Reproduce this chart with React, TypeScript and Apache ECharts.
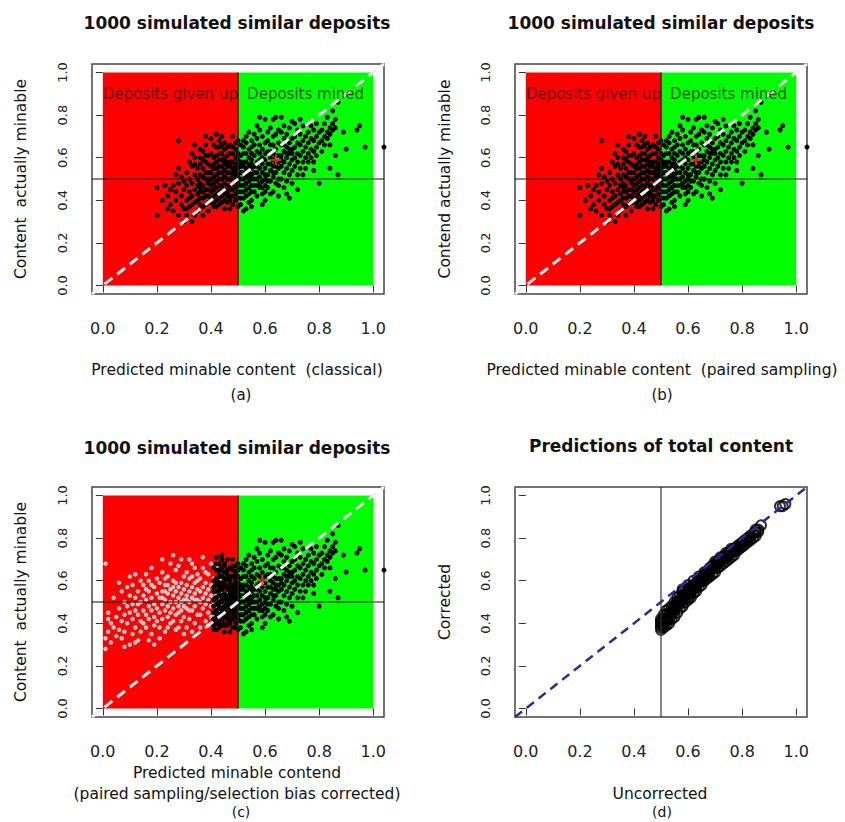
import React, { useEffect, useRef } from "react";
import * as echarts from "echarts";

// ---------- data (hundredths of content, [predicted, actual]) ----------
const TICKS = [0, 0.2, 0.4, 0.6, 0.8, 1.0];
const AXIS_MIN = -0.04;
const AXIS_MAX = 1.04;
const THRESHOLD = 0.5;
const TEXT_Y = 0.9;

// simulated deposits, panels (a) and (b)
const cloudAB: number[][] = [
  [20,46],[20,33],[22,40],[24,36],[24,42],[25,38],[23,47],[25,45],
  [26,35],[27,40],[27,44],[28,68],[28,33],[28,48],[29,38],[29,42],[29,51],[26,47],[30,30],[30,45],[30,36],[28,55],[27,52],
  [31,40],[31,47],[31,33],[32,50],[32,44],[32,37],[33,56],[33,42],[33,48],[33,30],[34,52],[34,39],[34,45],[34,60],[35,35],[35,50],[35,43],[35,55],[31,53],[32,58],[33,62],[34,33],[35,47],[32,41],[33,38],[34,57],[31,36],[35,40],[30,49],[34,66],
  [36,44],[36,52],[36,38],[36,60],[36,48],[37,55],[37,41],[37,47],[37,63],[37,33],[38,50],[38,45],[38,58],[38,38],[38,66],[39,53],[39,42],[39,48],[39,61],[39,35],[40,56],[40,44],[40,50],[40,69],[40,39],[36,57],[37,51],[38,42],[39,57],[40,47],[36,41],[37,59],[38,53],[39,45],[40,62],[36,64],[37,37],[38,70],[39,50],[40,53],[36,46],[37,44],[38,61],[39,39],[40,41],
  [41,48],[41,55],[41,42],[41,60],[41,37],[42,52],[42,46],[42,65],[42,58],[42,40],[43,50],[43,56],[43,44],[43,62],[43,38],[44,53],[44,47],[44,70],[44,59],[44,42],[45,51],[45,57],[45,45],[45,64],[45,40],[41,51],[41,66],[42,49],[42,55],[42,43],[43,47],[43,53],[43,68],[44,50],[44,56],[44,62],[45,48],[45,54],[45,60],[45,36],[41,45],[42,61],[43,41],[44,45],[45,43],[41,57],[42,71],[43,59],[44,39],[45,67],[41,39],[42,37],[43,65],[44,66],[45,58],
  [46,50],[46,56],[46,44],[46,61],[46,39],[47,53],[47,47],[47,58],[47,66],[47,42],[48,51],[48,55],[48,45],[48,62],[48,38],[49,49],[49,57],[49,43],[49,64],[49,53],[50,52],[50,47],[50,59],[50,41],[50,68],[46,53],[46,47],[47,50],[47,62],[47,36],[48,48],[48,58],[48,42],[49,46],[49,60],[49,40],[50,55],[50,44],[50,62],[50,50],[46,65],[47,45],[48,70],[49,51],[50,57],[46,42],[47,56],[48,53],[49,67],[50,37],[46,58],[47,40],[48,65],[49,55],[50,48],
  [51,50],[51,56],[51,44],[51,61],[51,38],[52,53],[52,47],[52,58],[52,65],[52,41],[53,51],[53,55],[53,45],[53,62],[53,36],[54,49],[54,57],[54,43],[54,64],[54,53],[55,52],[55,47],[55,59],[55,40],[55,68],[51,53],[51,47],[52,50],[52,62],[52,35],[53,48],[53,58],[53,42],[54,46],[54,60],[54,39],[55,55],[55,44],[55,62],[55,50],[51,66],[52,44],[53,70],[54,51],[55,57],[51,41],[52,56],[53,67],[54,72],[55,65],[51,58],[52,68],[53,52],[54,55],[55,37],
  [56,50],[56,56],[56,44],[56,61],[56,66],[57,53],[57,47],[57,58],[57,69],[57,42],[58,51],[58,55],[58,46],[58,62],[58,73],[59,49],[59,57],[59,43],[59,64],[59,53],[60,52],[60,47],[60,59],[60,40],[60,67],[56,53],[56,71],[57,50],[57,63],[58,48],[58,59],[58,66],[59,46],[59,60],[59,70],[60,55],[60,44],[60,62],[60,78],[56,47],[57,56],[58,79],[59,38],[60,50],[57,75],
  [61,52],[61,57],[61,63],[61,46],[61,68],[62,54],[62,49],[62,60],[62,66],[62,74],[63,51],[63,56],[63,62],[63,44],[63,70],[64,53],[64,58],[64,64],[64,48],[64,79],[65,55],[65,50],[65,61],[65,67],[65,42],[61,72],[62,57],[62,43],[63,59],[63,66],[64,61],[64,71],[65,58],[65,73],[61,49],[62,63],[63,53],[64,56],[65,47],[63,78],
  [66,56],[66,61],[66,66],[66,50],[66,72],[67,58],[67,63],[67,53],[67,69],[67,46],[68,55],[68,60],[68,65],[68,71],[68,49],[69,57],[69,62],[69,67],[69,52],[69,74],[70,59],[70,64],[70,69],[70,54],[70,77],[66,79],[67,75],[68,43],[69,41],[70,48],[66,59],[67,66],[68,62],[69,64],[70,62],
  [71,60],[71,65],[71,56],[71,70],[72,62],[72,67],[72,58],[72,73],[72,52],[73,61],[73,66],[73,55],[73,71],[74,63],[74,68],[74,58],[74,75],[75,60],[75,65],[75,70],[75,55],[71,76],[73,78],[74,52],[72,45],
  [76,62],[76,67],[76,58],[76,72],[77,64],[77,69],[77,60],[77,75],[78,63],[78,68],[78,58],[78,73],[79,65],[79,70],[79,61],[79,76],[80,67],[80,72],[80,48],[78,54],
  [81,68],[81,73],[81,63],[82,70],[82,66],[82,76],[83,69],[83,72],[83,79],[84,71],[84,74],[84,66],[85,73],[85,76],[85,82],[86,74],[86,78],[87,86],[87,52],[86,61],[84,55],
  [95,75],[94,73],[97,65],[104,65],[89,72],[90,64]
];

// panel (c): deposits given up after bias correction (grey)
const greyC: number[][] = [
  [1,68],[1,33],[1,28],[2,36],[2,45],[3,40],[3,31],[4,52],[4,38],[5,43],[5,34],[2,42],
  [6,59],[6,47],[6,37],[7,41],[7,55],[7,33],[8,50],[8,44],[8,36],[9,57],[9,48],[9,40],[10,53],[10,45],[10,30],[10,62],[8,29],
  [11,49],[11,42],[11,58],[11,35],[12,52],[12,46],[12,63],[12,38],[13,55],[13,44],[13,49],[13,32],[14,60],[14,50],[14,41],[14,36],[15,53],[15,46],[15,58],[15,40],[12,31],
  [16,51],[16,44],[16,63],[16,38],[17,55],[17,48],[17,42],[17,60],[18,52],[18,46],[18,35],[18,66],[19,57],[19,49],[19,43],[19,39],[20,54],[20,47],[20,61],[20,41],[17,32],[19,30],[16,56],[18,58],
  [21,52],[21,45],[21,59],[21,38],[22,55],[22,49],[22,64],[22,42],[23,51],[23,46],[23,58],[23,36],[24,54],[24,48],[24,62],[24,43],[25,56],[25,50],[25,68],[25,40],[21,33],[22,70],[23,61],[24,38],[25,45],[22,52],[23,55],[24,58],
  [26,53],[26,47],[26,60],[26,41],[27,55],[27,50],[27,65],[27,44],[28,52],[28,57],[28,48],[28,38],[29,54],[29,59],[29,46],[29,70],[30,51],[30,56],[30,62],[30,43],[26,72],[27,37],[28,67],[29,41],[30,48],[26,57],[27,59],[28,45],[29,50],[30,35],
  [31,53],[31,58],[31,47],[31,64],[32,55],[32,50],[32,61],[32,42],[33,52],[33,57],[33,46],[33,68],[34,54],[34,59],[34,48],[34,40],[35,56],[35,51],[35,63],[35,44],[31,38],[32,70],[33,36],[34,66],[35,60],[32,46],[33,62],[34,51],[31,51],
  [36,55],[36,50],[36,61],[36,44],[37,57],[37,52],[37,66],[37,47],[38,54],[38,59],[38,49],[38,41],[39,56],[39,51],[39,63],[39,45],[40,53],[40,58],[40,48],[40,68],[36,38],[37,71],[38,64],[39,39],[40,43],
  [41,55],[41,50],[41,61],[42,53],[42,47],[42,58],[43,56],[43,51],[43,63],[44,54],[44,49],[45,57],[45,52],[46,55],[41,44],[42,66],[43,45],[44,60],[45,47],[46,50]
];

// panel (c): extra selected deposits piled just below/at the threshold
const extraC: number[][] = [
  [42,45],[42,52],[42,60],[42,68],[43,40],[43,48],[43,55],[43,63],[44,43],[44,51],[44,58],[44,65],[44,72],[45,39],[45,46],[45,53],[45,61],
  [46,44],[46,49],[46,57],[46,63],[46,70],[47,41],[47,48],[47,55],[47,60],[48,43],[48,50],[48,56],[48,67],[49,38],[49,45],[49,52],[49,59],
  [49,62],[50,42],[50,49],[50,54],[50,65],[43,58],[44,47],[45,68],[47,52],[48,46],[46,52]
];

// panel (d): uncorrected vs corrected predictions
const bandD: number[][] = [
  [50,38],[50,40],[50,41],[50,39],[50,42],[51,40],[51,42],[51,39],[51,44],[52,42],[52,41],[52,44],[52,46],[53,43],[53,45],[53,42],[53,47],
  [54,45],[54,46],[54,44],[54,48],[55,46],[55,48],[55,47],[55,50],[56,48],[56,49],[56,50],[56,52],[57,49],[57,51],[57,50],[57,53],
  [58,51],[58,52],[58,53],[58,55],[59,53],[59,54],[59,52],[59,56],[60,54],[60,55],[60,56],[60,52],[61,55],[61,57],[61,54],[62,57],[62,58],[62,56],
  [63,58],[63,59],[63,57],[64,59],[64,60],[64,61],[65,61],[65,62],[65,60],[66,62],[66,63],[67,63],[67,64],[67,62],[68,65],[68,64],[69,66],[69,67],
  [70,67],[70,68],[70,66],[71,68],[71,69],[72,69],[72,70],[73,71],[73,70],[74,72],[74,71],[75,73],[75,72],[76,74],[76,73],[77,75],[77,74],
  [78,76],[78,75],[79,77],[80,78],[80,77],[81,79],[82,80],[82,79],[83,81],[84,82],[85,83],[85,84],[86,84],[87,86],[94,95],[95,95],[96,96],
  [50,37],[51,38],[52,39],[53,40],[54,42],[55,43],[56,45],[57,47],[58,48],[59,50],[60,51],[61,52],[62,54],[63,55],[64,57],[65,58],
  [66,60],[67,61],[68,62],[69,63],[70,64],[71,66],[72,67],[73,68],[74,69],[75,70],[76,71],[77,72],[78,74],[79,75],[80,76],[81,77],
  [82,78],[83,79],[84,80],[85,81],[86,83],[58,56],[60,58],[62,60],[64,62],[66,64],[68,66],[70,69],[72,71],[74,73],[76,75]
];

const crossA: number[][] = [[64, 59]];
const crossB: number[][] = [[63, 59]];
const crossC: number[][] = [[59, 60]];

const TITLE_SIM = "1000 simulated similar deposits";

// ---------- helpers ----------
const toUnit = (arr: number[][]) => arr.map((p) => [p[0] / 100, p[1] / 100]);
const FONT = "DejaVu Sans";
const GRIDS = [
  { left: 92, top: 64, width: 292, height: 230 },
  { left: 515, top: 64, width: 292, height: 230 },
  { left: 92, top: 487, width: 292, height: 230 },
  { left: 515, top: 487, width: 292, height: 230 },
];
const CROSS = "path://M4,0H6V10H4ZM0,4H10V6H0Z";

function regionSeries(i: number) {
  return {
    type: "scatter",
    xAxisIndex: i,
    yAxisIndex: i,
    data: [],
    z: 1,
    silent: true,
    markArea: {
      silent: true,
      data: [
        [{ coord: [0, 0], itemStyle: { color: "#ff0000" } }, { coord: [THRESHOLD, 1] }],
        [{ coord: [THRESHOLD, 0], itemStyle: { color: "#00ff00" } }, { coord: [1, 1] }],
      ],
      itemStyle: { opacity: 1 },
    },
  };
}

function pointsSeries(i: number, data: number[][], color: string, size: number, z = 2) {
  return {
    type: "scatter",
    xAxisIndex: i,
    yAxisIndex: i,
    data: toUnit(data),
    symbolSize: size,
    clip: false,
    silent: true,
    z,
    itemStyle: { color, opacity: 1 },
  };
}

function lineSeries(i: number, data: number[][], color: string, width: number, type: any, z = 4) {
  return {
    type: "line",
    xAxisIndex: i,
    yAxisIndex: i,
    data,
    showSymbol: false,
    symbol: "none",
    clip: false,
    silent: true,
    z,
    lineStyle: { color, width, type },
  };
}

function annotateSeries(i: number) {
  return {
    type: "scatter",
    xAxisIndex: i,
    yAxisIndex: i,
    symbolSize: 0,
    silent: true,
    z: 6,
    data: [
      { value: [THRESHOLD / 2, TEXT_Y], name: "Deposits given up" },
      { value: [(1 + THRESHOLD) / 2, TEXT_Y], name: "Deposits mined" },
    ],
    label: {
      show: true,
      position: "inside",
      formatter: (p: any) => p.name,
      fontFamily: FONT,
      fontSize: 15,
      color: "rgba(30,0,0,0.85)",
    },
  };
}

function threshold(i: number) {
  return [
    lineSeries(i, [[AXIS_MIN, THRESHOLD], [AXIS_MAX, THRESHOLD]], "#111", 1, "solid", 4),
    lineSeries(i, [[THRESHOLD, 0], [THRESHOLD, 1]], "#222", 1.5, "solid", 4),
    lineSeries(i, [[AXIS_MIN, AXIS_MIN], [AXIS_MAX, AXIS_MAX]], "#f4ecec", 3, [10, 6], 5),
  ];
}

function crossSeries(i: number, data: number[][]) {
  return {
    type: "scatter",
    xAxisIndex: i,
    yAxisIndex: i,
    data: toUnit(data),
    symbol: CROSS,
    symbolSize: 11,
    silent: true,
    z: 6,
    itemStyle: { color: "#ff3030" },
  };
}

function text(x: number, y: number, s: string, size: number, bold = false, rot = 0) {
  return {
    type: "text",
    x,
    y,
    rotation: rot,
    silent: true,
    style: {
      text: s,
      fontFamily: FONT,
      fontSize: size,
      fontWeight: bold ? "bold" : "normal",
      fill: "#111",
      align: "center",
      verticalAlign: "middle",
    },
  };
}

export default function App() {
  const ref = useRef<HTMLDivElement>(null);
  useEffect(() => {
    if (!ref.current) return;
    const chart = echarts.init(ref.current, undefined, { renderer: "svg" });
    const fmt = (v: number) => v.toFixed(1);
    const xAxes = GRIDS.map((_, i) => ({
      type: "value",
      gridIndex: i,
      min: AXIS_MIN,
      max: AXIS_MAX,
      axisLine: { show: false },
      splitLine: { show: false },
      axisTick: { show: true, customValues: TICKS, length: 7, lineStyle: { color: "#333" } },
      axisLabel: { customValues: TICKS, formatter: fmt, margin: 26, fontSize: 16, fontFamily: FONT, color: "#222" },
    }));
    const yAxes = GRIDS.map((_, i) => ({
      type: "value",
      gridIndex: i,
      min: AXIS_MIN,
      max: AXIS_MAX,
      axisLine: { show: false },
      splitLine: { show: false },
      axisTick: { show: true, customValues: TICKS, length: 7, lineStyle: { color: "#333" } },
      axisLabel: { customValues: TICKS, formatter: fmt, margin: 23, rotate: 90, fontSize: 13, fontFamily: FONT, color: "#222" },
    }));
    const cBlack = cloudAB.filter((p) => p[0] >= 41).concat(extraC);
    const series: any[] = [
      // (a)
      regionSeries(0),
      pointsSeries(0, cloudAB, "#000", 5),
      ...threshold(0),
      crossSeries(0, crossA),
      annotateSeries(0),
      // (b)
      regionSeries(1),
      pointsSeries(1, cloudAB, "#000", 5),
      ...threshold(1),
      crossSeries(1, crossB),
      annotateSeries(1),
      // (c)
      regionSeries(2),
      pointsSeries(2, greyC, "#d4c6c6", 4.5),
      pointsSeries(2, cBlack, "#000", 5),
      ...threshold(2),
      crossSeries(2, crossC),
      // (d)
      {
        type: "scatter",
        xAxisIndex: 3,
        yAxisIndex: 3,
        data: toUnit(bandD),
        symbol: "circle",
        symbolSize: 10,
        silent: true,
        z: 2,
        itemStyle: { color: "rgba(0,0,0,0)", borderColor: "#000", borderWidth: 2 },
      },
      lineSeries(3, [[THRESHOLD, AXIS_MIN], [THRESHOLD, AXIS_MAX]], "#333", 1.2, "solid", 3),
      lineSeries(3, [[AXIS_MIN, AXIS_MIN], [AXIS_MAX, AXIS_MAX]], "#2a2a9a", 2.5, [9, 6], 5),
    ];
    chart.setOption({
      animation: false,
      backgroundColor: "#fff",
      grid: GRIDS.map((g) => ({ ...g, show: true, borderColor: "#444", borderWidth: 1.5, backgroundColor: "transparent" })),
      xAxis: xAxes,
      yAxis: yAxes,
      series,
      graphic: [
        text(237, 23, TITLE_SIM, 17, true),
        text(661, 23, TITLE_SIM, 17, true),
        text(237, 448, TITLE_SIM, 17, true),
        text(661, 446, "Predictions of total content", 17, true),
        text(237, 370, "Predicted minable content  (classical)", 15.5),
        text(241, 395, "(a)", 15),
        text(662, 370, "Predicted minable content  (paired sampling)", 15.5),
        text(662, 395, "(b)", 15),
        text(237, 773, "Predicted minable contend", 15.5),
        text(237, 794, "(paired sampling/selection bias corrected)", 15.5),
        text(241, 812, "(c)", 14),
        text(660, 794, "Uncorrected", 15.5),
        text(662, 812, "(d)", 14),
        text(21, 179, "Content  actually minable", 15.5, false, Math.PI / 2),
        text(445, 179, "Contend actually minable", 15.5, false, Math.PI / 2),
        text(21, 602, "Content  actually minable", 15.5, false, Math.PI / 2),
        text(445, 602, "Corrected", 15.5, false, Math.PI / 2),
      ],
    });
    return () => chart.dispose();
  }, []);
  return <div ref={ref} style={{ position: "fixed", left: 0, top: 0, width: 845, height: 822 }} />;
}
